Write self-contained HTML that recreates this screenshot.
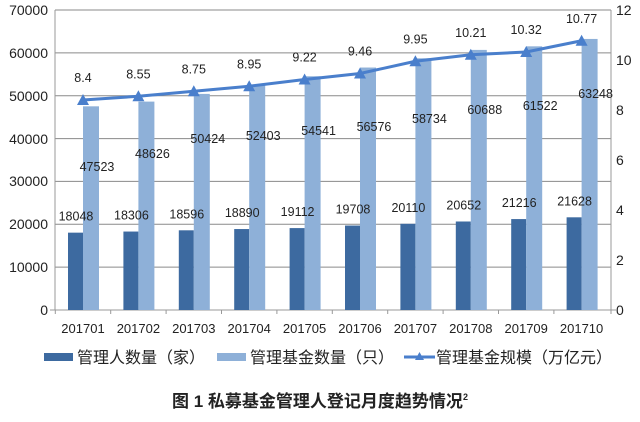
<!DOCTYPE html>
<html><head><meta charset="utf-8"><style>
body{margin:0;background:#fff;width:640px;height:417px;overflow:hidden}
text{font-family:"Liberation Sans","Noto Sans CJK SC",sans-serif;fill:#222}
</style></head><body>
<svg width="640" height="417" viewBox="0 0 640 417" xmlns="http://www.w3.org/2000/svg">
<g stroke="#8a8a8a" stroke-width="1">
<line x1="55" y1="10" x2="611" y2="10"/><line x1="55" y1="52.9" x2="611" y2="52.9"/>
<line x1="55" y1="95.7" x2="611" y2="95.7"/><line x1="55" y1="138.6" x2="611" y2="138.6"/>
<line x1="55" y1="181.4" x2="611" y2="181.4"/><line x1="55" y1="224.3" x2="611" y2="224.3"/>
<line x1="55" y1="267.1" x2="611" y2="267.1"/>
</g>
<g stroke="#999" stroke-width="1">
<line x1="55" y1="10" x2="55" y2="310"/><line x1="611" y1="10" x2="611" y2="310"/>
<line x1="50" y1="310" x2="616" y2="310"/>
</g>
<g font-size="14" text-anchor="end">
<text x="48" y="15">70000</text><text x="48" y="58">60000</text><text x="48" y="101">50000</text>
<text x="48" y="144">40000</text><text x="48" y="186">30000</text><text x="48" y="229">20000</text>
<text x="48" y="272">10000</text><text x="48" y="315">0</text>
</g>
<g font-size="14" text-anchor="start">
<text x="616" y="15">12</text><text x="616" y="65">10</text><text x="616" y="115">8</text>
<text x="616" y="165">6</text><text x="616" y="215">4</text><text x="616" y="265">2</text><text x="616" y="315">0</text>
</g>
<g id="bars"></g>
<g id="labels" font-size="12.5" text-anchor="middle"></g>
<rect x="44" y="353" width="29" height="8" fill="#3d6aa0"/>
<text x="77" y="363" font-size="16">管理人数量（家）</text>
<rect x="217" y="353" width="29" height="8" fill="#8eb0d8"/>
<text x="250" y="363" font-size="16">管理基金数量（只）</text>
<line x1="404" y1="357" x2="435" y2="357" stroke="#4a7fcc" stroke-width="3"/>
<polygon points="419.5,352 424,360 415,360" fill="#4a7fcc"/>
<text x="436" y="363" font-size="16">管理基金规模（万亿元）</text>
<text x="320" y="407" font-size="17" font-weight="bold" text-anchor="middle">图 1  私募基金管理人登记月度趋势情况<tspan font-size="9" dy="-7">2</tspan></text>
<script>
var d=[18048,18306,18596,18890,19112,19708,20110,20652,21216,21628];
var f=[47523,48626,50424,52403,54541,56576,58734,60688,61522,63248];
var s=[8.4,8.55,8.75,8.95,9.22,9.46,9.95,10.21,10.32,10.77];
var fy=[166,153,138,135,130,126,118,109,105,93];
var ns="http://www.w3.org/2000/svg",b=document.getElementById("bars"),L=document.getElementById("labels");
function el(p,t,a){var e=document.createElementNS(ns,t);for(var k in a)e.setAttribute(k,a[k]);p.appendChild(e);return e}
var pts=[];
for(var i=0;i<10;i++){var c=83+55.4*i;
var hd=d[i]*300/70000,hf=f[i]*300/70000;
el(b,"rect",{x:c-15,y:310-hd,width:15,height:hd,fill:"#3d6aa0"});
el(b,"rect",{x:c,y:310-hf,width:16,height:hf,fill:"#8eb0d8"});
el(b,"line",{x1:c-27.7,y1:310,x2:c-27.7,y2:314,stroke:"#999"});
var py=310-s[i]*25;pts.push(c+","+py);
el(L,"text",{x:c-7,y:310-hd-12}).textContent=d[i];
el(L,"text",{x:c+14,y:fy[i]+5}).textContent=f[i];
el(L,"text",{x:c,y:py-18}).textContent=s[i];
el(L,"text",{x:c,y:333,"font-size":"13"}).textContent=201701+i;
}
el(b,"line",{x1:611,y1:310,x2:611,y2:314,stroke:"#999"});
el(b,"polyline",{points:pts.join(" "),fill:"none",stroke:"#4a7fcc","stroke-width":3});
for(var i=0;i<10;i++){var p=pts[i].split(",");var x=+p[0],y=+p[1];
el(b,"polygon",{points:x+","+(y-6)+" "+(x+6)+","+(y+5)+" "+(x-6)+","+(y+5),fill:"#4a7fcc"});}
</script>
</svg>
</body></html>
